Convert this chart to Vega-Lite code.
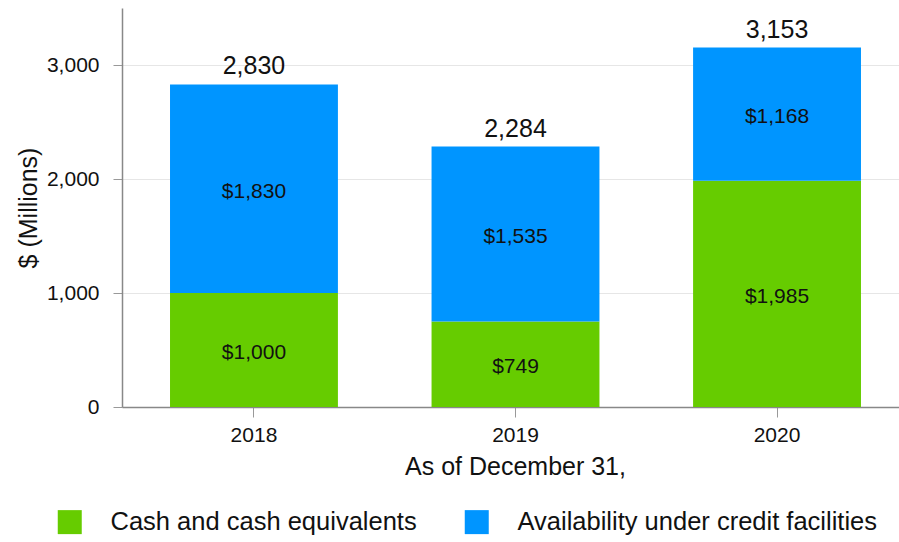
{
  "$schema": "https://vega.github.io/schema/vega-lite/v6.json",
  "width": 775,
  "height": 399,
  "autosize": {"type": "none"},
  "padding": {"left": 122, "top": 8, "right": 2, "bottom": 135},
  "background": "white",
  "config": {"font": "Liberation Sans", "view": {"stroke": null}},
  "data": {
    "values": [
      {"year": "2018", "type": "Cash and cash equivalents", "order": 1, "value": 1000},
      {"year": "2018", "type": "Availability under credit facilities", "order": 2, "value": 1830},
      {"year": "2019", "type": "Cash and cash equivalents", "order": 1, "value": 749},
      {"year": "2019", "type": "Availability under credit facilities", "order": 2, "value": 1535},
      {"year": "2020", "type": "Cash and cash equivalents", "order": 1, "value": 1985},
      {"year": "2020", "type": "Availability under credit facilities", "order": 2, "value": 1168}
    ]
  },
  "transform": [
    {"stack": "value", "groupby": ["year"], "sort": [{"field": "order"}], "as": ["v0", "v1"]},
    {"calculate": "(datum.v0 + datum.v1) / 2", "as": "mid"}
  ],
  "encoding": {
    "x": {
      "field": "year",
      "type": "ordinal",
      "scale": {"paddingInner": 0.358, "paddingOuter": 0.1836, "range": [0, 787]},
      "axis": {
        "title": "As of December 31,",
        "titleFontSize": 25,
        "titleFontWeight": "normal",
        "titleColor": "#111",
        "titlePadding": 9,
        "titleX": 393,
        "labelFontSize": 21,
        "labelColor": "#111",
        "labelAngle": 0,
        "labelPadding": 7,
        "tickSize": 10,
        "tickColor": "#999",
        "domainColor": "#888",
        "domainWidth": 1.5
      }
    }
  },
  "layer": [
    {
      "mark": {"type": "bar"},
      "encoding": {
        "y": {
          "field": "v0",
          "type": "quantitative",
          "scale": {"domain": [0, 3500]},
          "axis": {
            "title": "$ (Millions)",
            "titleFontSize": 25,
            "titleFontWeight": "normal",
            "titleColor": "#111",
            "titlePadding": 5,
            "values": [0, 1000, 2000, 3000],
            "format": ",.0f",
            "labelFontSize": 21,
            "labelColor": "#111",
            "labelPadding": 14,
            "tickSize": 9,
            "tickColor": "#999",
            "domainColor": "#888",
            "domainWidth": 1.5,
            "gridColor": "#e6e6e6"
          }
        },
        "y2": {"field": "v1"},
        "color": {
          "field": "type",
          "type": "nominal",
          "scale": {
            "domain": ["Cash and cash equivalents", "Availability under credit facilities"],
            "range": ["#66cc00", "#0095ff"]
          },
          "legend": {
            "orient": "none",
            "legendX": -65,
            "legendY": 501,
            "direction": "horizontal",
            "title": null,
            "symbolType": "square",
            "symbolSize": 576,
            "symbolStrokeWidth": 0,
            "symbolOpacity": 1,
            "labelFontSize": 25.5,
            "labelColor": "#111",
            "labelOffset": 28,
            "columnPadding": 47,
            "labelLimit": 500
          }
        }
      }
    },
    {
      "mark": {"type": "text", "fontSize": 21, "color": "#111", "baseline": "middle", "dy": 3},
      "encoding": {
        "y": {"field": "mid", "type": "quantitative"},
        "text": {"field": "value", "type": "quantitative", "format": "$,.0f"}
      }
    },
    {
      "mark": {"type": "text", "fontSize": 25, "color": "#111", "baseline": "bottom", "dy": -5},
      "encoding": {
        "y": {"aggregate": "sum", "field": "value", "type": "quantitative"},
        "text": {"aggregate": "sum", "field": "value", "type": "quantitative", "format": ","}
      }
    }
  ]
}
